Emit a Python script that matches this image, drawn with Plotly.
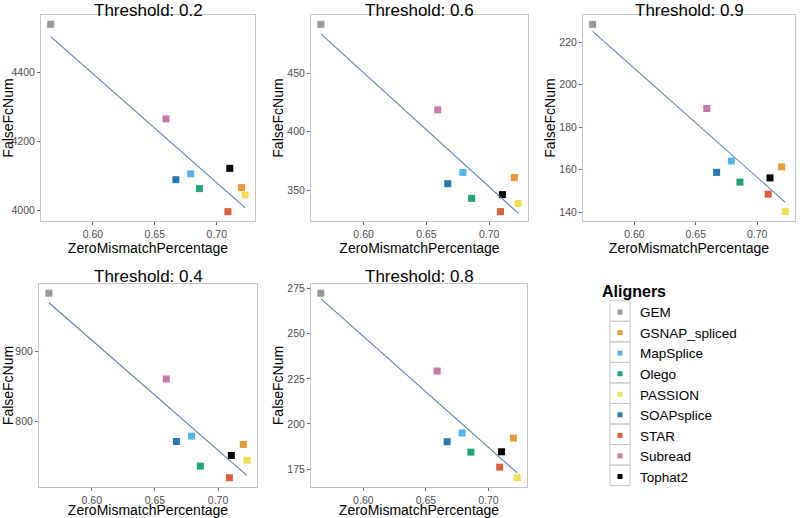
import numpy as np
import plotly.graph_objects as go

aligners = ["GEM", "GSNAP_spliced", "MapSplice", "Olego", "PASSION",
            "SOAPsplice", "STAR", "Subread", "Tophat2"]
colors = ["#999999", "#EA9838", "#52B4E8", "#20A47C", "#EEE052",
          "#2A78B0", "#D8603A", "#C878A8", "#000000"]
zero_mismatch = [0.566, 0.720, 0.679, 0.686, 0.723, 0.667, 0.709, 0.659, 0.7105]

thresholds = ["0.2", "0.6", "0.9", "0.4", "0.8"]
false_fc_02 = [4541, 4066, 4106, 4063, 4045, 4089, 3996, 4266, 4122]
false_fc_06 = [491.5, 361, 365.4, 343.3, 339, 355.8, 332, 418.7, 346.5]
false_fc_09 = [228.4, 161.3, 164, 154.1, 140.2, 158.7, 148.4, 188.8, 156.1]
false_fc_04 = [983.4, 766.7, 778.6, 735.7, 744, 771, 719, 860.6, 751]
false_fc_08 = [272.4, 192.2, 195, 184.4, 170.2, 190.2, 176.1, 229.3, 184.6]
panel_values = [false_fc_02, false_fc_06, false_fc_09, false_fc_04, false_fc_08]
y_dticks = [200, 50, 20, 100, 25]
x_ticks = [0.60, 0.65, 0.70]

W, H = 800, 518
# panel pixel boxes: left, right, top, bottom
boxes = [(41, 255, 15, 221), (311, 528, 15, 221), (583, 795, 15, 221),
         (39, 257, 284, 487), (311, 527, 284, 487)]
title_centers = [11, 11, 11, 276, 276]

FONT = "Liberation Sans, Arial, Helvetica, sans-serif"
fig = go.Figure()
layout = dict(
    width=W, height=H, margin=dict(l=0, r=0, t=0, b=0, autoexpand=False),
    paper_bgcolor="white", plot_bgcolor="white",
    font=dict(family=FONT, color="#000000"),
    showlegend=True,
    annotations=[],
    shapes=[],
)

x_arr = np.array(zero_mismatch)
xmin, xmax = x_arr.min(), x_arr.max()
xpad = (xmax - xmin) * 0.05

for i, (vals, dt, box) in enumerate(zip(panel_values, y_dticks, boxes)):
    n = "" if i == 0 else str(i + 1)
    xa, ya = "x" + n, "y" + n
    y_arr = np.array(vals)
    for name, col, xv, yv in zip(aligners, colors, zero_mismatch, vals):
        fig.add_trace(go.Scatter(
            x=[xv], y=[yv], mode="markers", name=name, showlegend=False,
            marker=dict(symbol="square", size=7, color=col),
            xaxis=xa, yaxis=ya, hoverinfo="x+y+name"))
    slope, icpt = np.polyfit(x_arr, y_arr, 1)
    lx = np.array([xmin, xmax])
    fig.add_trace(go.Scatter(
        x=lx, y=slope * lx + icpt, mode="lines", showlegend=False,
        line=dict(color="#5a80b8", width=1.1), xaxis=xa, yaxis=ya,
        hoverinfo="skip"))
    ymin, ymax = y_arr.min(), y_arr.max()
    ypad = (ymax - ymin) * 0.05
    l, r, t, b = box
    axcommon = dict(showgrid=False, zeroline=False, showline=True, mirror=True,
                    linecolor="#c4c4c4", linewidth=1, ticks="outside",
                    ticklen=3, tickcolor="#666666", automargin=False,
                    tickfont=dict(size=10.5, color="#4d4d4d", family=FONT))
    layout["xaxis" + n] = dict(
        axcommon, domain=[l / W, r / W], anchor=ya,
        range=[xmin - xpad, xmax + xpad], tickvals=x_ticks, tickformat=".2f",
        title=dict(text="ZeroMismatchPercentage", standoff=0,
                   font=dict(size=14, color="#000000")))
    layout["yaxis" + n] = dict(
        axcommon, domain=[1 - b / H, 1 - t / H], anchor=xa,
        range=[ymin - ypad, ymax + ypad], dtick=dt,
        title=dict(text="FalseFcNum", standoff=0,
                   font=dict(size=14, color="#000000")))
    layout["annotations"].append(dict(
        text="Threshold: " + thresholds[i], xref=xa + " domain",
        yref="paper", x=0.5, y=1 - title_centers[i] / H, yanchor="middle",
        showarrow=False, font=dict(size=17, color="#000000")))

# legend-only entries
for name, col in zip(aligners, colors):
    fig.add_trace(go.Scatter(
        x=[None], y=[None], mode="markers", name=name,
        marker=dict(symbol="square", size=5, color=col), showlegend=True))

LEG_X, LEG_TOP, ITEM_H, FIRST_C = 600, 276, 20.55, 311
layout["legend"] = dict(
    x=LEG_X / W, y=1 - LEG_TOP / H, xanchor="left", yanchor="top",
    title=dict(text="<b>Aligners</b>", font=dict(size=16)),
    font=dict(size=13.5, family=FONT), itemwidth=30,
    bgcolor="rgba(0,0,0,0)", tracegroupgap=0)

# key boxes around legend symbols (ggplot-style legend keys)
for k in range(len(aligners)):
    c = FIRST_C + k * ITEM_H
    layout["shapes"].append(dict(
        type="rect", xref="paper", yref="paper",
        x0=(LEG_X + 10) / W, x1=(LEG_X + 30) / W,
        y0=1 - (c - ITEM_H / 2) / H, y1=1 - (c + ITEM_H / 2) / H,
        line=dict(color="#c8c8c8", width=1), fillcolor="rgba(0,0,0,0)",
        layer="below"))

fig.update_layout(**layout)
fig.write_html("out.html", config={"displayModeBar": False},
               post_script="document.body.style.margin='0';"
                           "document.body.style.overflow='hidden';")
